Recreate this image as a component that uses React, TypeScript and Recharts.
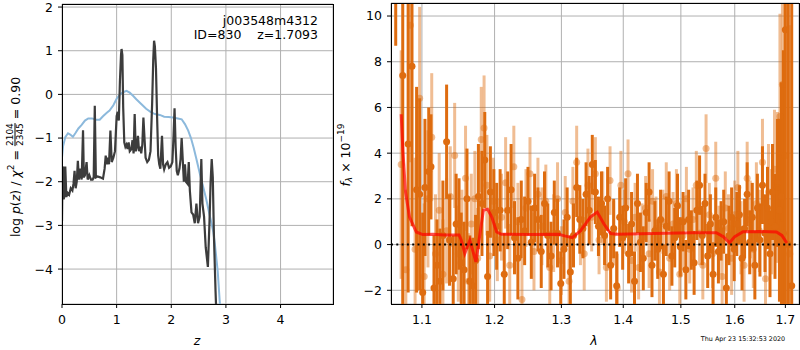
import React from "react";
import {
  CartesianGrid,
  ComposedChart,
  ErrorBar,
  Line,
  ReferenceLine,
  Scatter,
  XAxis,
  YAxis,
} from "recharts";

// left panel: redshift PDF
const zTicks = [0, 1, 2, 3, 4];
const logpTicks = [-4, -3, -2, -1, 0, 1, 2];

// [z, log p(z)] of the fit
const fitCurve: [number, number][] = [
  [0, -2.9], [0.01, -1.7], [0.02, -1.65], [0.03, -2.4], [0.05, -2.3], [0.06, -1.65],
  [0.08, -2.35], [0.1, -2.25], [0.13, -2.3], [0.16, -2.15], [0.19, -2.2], [0.21, -2.05],
  [0.23, -1.75], [0.25, -2.15], [0.27, -2.0], [0.29, -1.52], [0.31, -1.95], [0.33, -1.7],
  [0.36, -1.95], [0.385, -0.82], [0.4, -1.9], [0.42, -1.85], [0.45, -1.55], [0.47, -1.95],
  [0.5, -1.85], [0.53, -1.95], [0.56, -1.95], [0.58, -1.9], [0.6, -0.26], [0.62, -1.9],
  [0.65, -1.88], [0.7, -1.9], [0.75, -1.93], [0.78, -1.7], [0.8, -1.4], [0.82, -1.6],
  [0.84, -1.45], [0.86, -1.6], [0.886, -0.83], [0.91, -1.55], [0.94, -1.45], [0.97, -1.3],
  [1.0, -0.5], [1.02, -0.4], [1.04, -0.6], [1.06, 0.3], [1.08, 0.9], [1.09, 1.04],
  [1.105, 0.9], [1.12, -0.3], [1.14, -1.1], [1.16, -1.2], [1.18, -1.15], [1.2, -1.25],
  [1.22, -1.1], [1.24, -1.3], [1.27, -1.25], [1.29, -1.05], [1.31, -1.35], [1.33, -0.45],
  [1.35, -1.3], [1.37, -1.2], [1.39, -0.95], [1.41, -1.3], [1.43, -1.2], [1.45, -1.35],
  [1.47, -1.15], [1.49, -0.53], [1.51, -1.0], [1.53, -1.45], [1.56, -1.55], [1.59, -1.5],
  [1.62, -1.3], [1.65, -0.2], [1.67, 0.8], [1.685, 1.23], [1.7, 1.1], [1.72, 0.6],
  [1.74, -0.5], [1.76, -1.4], [1.78, -1.6], [1.8, -1.7], [1.83, -0.95], [1.85, -1.6],
  [1.87, -1.72], [1.9, -1.6], [1.93, -1.55], [1.96, -1.68], [1.99, -1.65], [2.02, -1.55],
  [2.04, -1.0], [2.06, -0.32], [2.08, -1.2], [2.1, -1.75], [2.12, -1.85], [2.15, -1.7],
  [2.17, -1.48], [2.19, -1.0], [2.21, -1.5], [2.23, -2.0], [2.25, -1.6], [2.27, -2.0],
  [2.3, -2.05], [2.32, -1.55], [2.34, -2.2], [2.37, -2.7], [2.4, -2.75], [2.43, -2.95],
  [2.46, -2.5], [2.49, -2.95], [2.52, -2.8], [2.55, -1.48], [2.57, -2.5], [2.6, -2.8],
  [2.63, -3.5], [2.67, -3.95], [2.7, -2.9], [2.72, -2.0], [2.74, -1.48], [2.76, -1.9],
  [2.78, -3.2], [2.81, -4.5], [2.83, -5.2],
];

// [z, log p(z)] of the prior
const priorCurve: [number, number][] = [
  [0, -1.45], [0.02, -1.18], [0.06, -0.98], [0.11, -0.89], [0.15, -0.92], [0.2, -0.97],
  [0.25, -0.88], [0.3, -0.78], [0.36, -0.7], [0.42, -0.6], [0.48, -0.55], [0.55, -0.55],
  [0.62, -0.58], [0.69, -0.58], [0.75, -0.5], [0.82, -0.42], [0.87, -0.37], [0.94, -0.25],
  [1.0, -0.1], [1.06, 0.0], [1.12, 0.05], [1.18, 0.08], [1.24, 0.04], [1.3, -0.03],
  [1.36, -0.11], [1.45, -0.22], [1.54, -0.33], [1.62, -0.4], [1.7, -0.45], [1.79, -0.47],
  [1.87, -0.51], [1.95, -0.52], [2.03, -0.53], [2.12, -0.55], [2.19, -0.57], [2.25, -0.68],
  [2.31, -0.83], [2.36, -1.0], [2.41, -1.22], [2.46, -1.48], [2.52, -1.8], [2.58, -2.1],
  [2.64, -2.4], [2.7, -2.75], [2.77, -3.15], [2.8, -3.45], [2.85, -4.05], [2.89, -4.8],
  [2.95, -5.6],
];

// right panel: spectrum
const lamTicks = [1.1, 1.2, 1.3, 1.4, 1.5, 1.6, 1.7];
const fluxTicks = [-2, 0, 2, 4, 6, 8, 10];

// [lambda, flux, err]
const darkSpec: [number, number, number][] = [
  [1.066, 13.5, 4.8], [1.075, 7.4, 12], [1.082, 4.4, 6.5], [1.087, 7.8, 7], [1.093, 2.4, 4.5],
  [1.097, 2.2, 4.2], [1.101, -2.1, 3.5], [1.104, 2.5, 3.0], [1.109, 3.2, 2.8], [1.112, 3.4, 2.3],
  [1.116, -1.9, 2.3], [1.12, -0.9, 2.0], [1.124, -1.6, 2.3], [1.128, 0.4, 2.4], [1.133, 4.5, 2.5],
  [1.137, 0.2, 2.0], [1.142, -1.5, 1.9], [1.146, 0.9, 2.2], [1.15, 0.9, 2.0], [1.153, -0.8, 2.2],
  [1.157, -1.1, 2.1], [1.161, 2.0, 2.2], [1.165, -1.6, 2.0], [1.169, -1.8, 2.1], [1.173, -0.7, 2.0],
  [1.177, 2.1, 2.3], [1.182, 1.8, 2.3], [1.186, 3.7, 2.1], [1.19, -1.4, 2.0], [1.194, 2.3, 2.0],
  [1.199, 1.4, 1.9], [1.203, 0.8, 1.9], [1.208, 1.5, 1.8], [1.214, -1.3, 1.8], [1.219, 1.5, 1.7],
  [1.224, 2.4, 2.0], [1.229, 0.3, 1.6], [1.234, -0.6, 1.8], [1.239, 1.1, 1.7], [1.244, 0.6, 1.5],
  [1.249, 1.9, 1.5], [1.254, 0.1, 1.6], [1.259, 1.6, 1.5], [1.264, 1.1, 1.4], [1.269, -0.3, 1.6],
  [1.274, 1.8, 1.4], [1.279, 0.4, 1.4], [1.284, -0.5, 1.5], [1.289, 1.4, 1.4], [1.294, 0.5, 1.5],
  [1.299, -1.7, 1.4], [1.304, -0.2, 1.3], [1.309, 1.2, 1.3], [1.314, -1.2, 1.6], [1.319, 0.4, 1.4],
  [1.324, 2.5, 1.3], [1.329, 1.1, 1.5], [1.334, 0.7, 1.3], [1.339, 2.2, 1.4], [1.344, 1.5, 1.5],
  [1.349, 3.5, 1.3], [1.354, 2.3, 1.4], [1.359, 0.8, 1.3], [1.364, 1.8, 1.4], [1.369, 0.4, 1.3],
  [1.374, 2.0, 1.4], [1.379, -0.9, 1.5], [1.384, 0.7, 1.3], [1.389, -1.8, 1.5], [1.394, 1.2, 1.3],
  [1.399, 0.3, 1.4], [1.404, 1.6, 1.3], [1.409, -0.4, 1.3], [1.414, 0.9, 1.4], [1.419, -1.6, 1.3],
  [1.424, 1.8, 1.3], [1.429, 0.1, 1.3], [1.434, -0.6, 1.4], [1.439, 1.4, 1.3], [1.444, 2.3, 1.3],
  [1.449, -0.9, 1.4], [1.454, 0.6, 1.3], [1.459, -0.2, 1.3], [1.464, 1.1, 1.3], [1.469, -1.3, 1.3],
  [1.474, 0.8, 1.3], [1.479, 1.9, 1.3], [1.484, -0.5, 1.3], [1.489, 0.3, 1.3], [1.494, 1.7, 1.4],
  [1.499, -0.1, 1.3], [1.504, 1.0, 1.3], [1.509, -1.1, 1.3], [1.514, 1.1, 1.3], [1.519, 0.2, 1.3],
  [1.524, -0.8, 1.4], [1.529, 1.5, 1.3], [1.534, 2.6, 1.3], [1.539, 0.4, 1.3], [1.544, 1.8, 1.3],
  [1.549, -0.5, 1.4], [1.554, 0.9, 1.3], [1.559, -1.3, 1.4], [1.564, 1.2, 1.3], [1.569, -0.3, 1.4],
  [1.574, 0.6, 1.3], [1.579, 1.0, 1.4], [1.584, -1.9, 1.5], [1.589, 0.4, 1.3], [1.594, 1.2, 1.3],
  [1.599, -0.2, 1.4], [1.604, 0.9, 1.4], [1.609, 1.3, 1.3], [1.614, -0.6, 1.4], [1.619, 0.7, 1.3],
  [1.624, 2.2, 1.4], [1.629, 0.1, 1.4], [1.634, 1.2, 1.5], [1.639, -0.9, 1.5], [1.644, 1.6, 1.5],
  [1.649, 0.2, 1.6], [1.654, 2.6, 1.7], [1.659, 0.5, 1.7], [1.664, 1.6, 1.8], [1.669, -0.4, 1.9],
  [1.674, 2.3, 2.1], [1.679, 0.8, 2.3], [1.684, 2.7, 2.8], [1.688, 1.5, 4.0], [1.692, 2.1, 5.0],
  [1.696, 0.5, 8], [1.7, 9.4, 12], [1.706, 0, 14], [1.713, -1.8, 14],
];

const lightSpec: [number, number, number][] = [
  [1.073, 3.5, 5], [1.079, -1.1, 3.5], [1.085, 9.6, 6], [1.091, -0.2, 4], [1.097, 6.4, 4],
  [1.103, -1.4, 3.2], [1.108, 2.0, 3.0], [1.113, 4.7, 2.8], [1.118, -0.4, 2.6], [1.123, 1.5, 2.5],
  [1.128, -1.3, 2.4], [1.133, 0.6, 2.3], [1.138, 2.1, 2.2], [1.144, 3.9, 2.3], [1.149, -0.4, 2.1],
  [1.154, 0.2, 2.2], [1.159, 2.9, 2.3], [1.163, -1.6, 2.1], [1.167, 0.9, 2.2], [1.172, 2.0, 2.1],
  [1.176, -0.6, 2.2], [1.181, 4.6, 2.3], [1.185, 5.1, 2.3], [1.189, 2.6, 2.2], [1.193, -0.5, 2.0],
  [1.198, 1.9, 1.9], [1.204, 0.2, 1.8], [1.21, 1.2, 1.9], [1.216, 2.7, 2.0], [1.222, -0.9, 1.8],
  [1.228, 3.4, 1.8], [1.234, 1.0, 1.7], [1.24, -2.4, 1.8], [1.246, 1.6, 1.7], [1.252, 3.1, 1.6],
  [1.258, -0.3, 1.7], [1.264, 2.2, 1.6], [1.27, 0.8, 1.7], [1.276, 1.9, 1.6], [1.282, -1.0, 1.6],
  [1.288, 0.5, 1.7], [1.294, 2.0, 1.6], [1.3, -0.7, 1.5], [1.306, 1.4, 1.6], [1.312, -1.6, 1.5],
  [1.318, 1.9, 1.5], [1.324, 3.6, 1.6], [1.33, 0.6, 1.5], [1.336, -0.4, 1.6], [1.342, 2.6, 1.6],
  [1.348, 1.2, 1.5], [1.354, 3.1, 1.6], [1.36, 0.2, 1.5], [1.366, 1.6, 1.6], [1.372, -1.0, 1.5],
  [1.378, 2.8, 1.5], [1.384, 0.5, 1.4], [1.39, -1.9, 1.5], [1.396, 2.6, 1.5], [1.402, 1.0, 1.4],
  [1.408, 3.1, 1.5], [1.414, -0.7, 1.4], [1.42, 1.2, 1.5], [1.426, -1.0, 1.4], [1.432, 0.3, 1.5],
  [1.438, 1.6, 1.4], [1.444, -0.4, 1.5], [1.45, 1.9, 1.4], [1.456, 0.7, 1.4], [1.462, -1.2, 1.5],
  [1.468, 1.0, 1.4], [1.474, 2.1, 1.5], [1.48, -0.6, 1.4], [1.486, 0.9, 1.4], [1.492, 1.8, 1.5],
  [1.498, -1.3, 1.4], [1.504, 0.4, 1.5], [1.51, 2.0, 1.4], [1.516, -0.2, 1.5], [1.522, 1.1, 1.4],
  [1.528, 2.6, 1.5], [1.534, 0.5, 1.4], [1.54, -0.9, 1.5], [1.546, 4.2, 1.5], [1.552, 1.3, 1.4],
  [1.558, -0.4, 1.5], [1.564, 2.9, 1.6], [1.57, 0.2, 1.5], [1.576, -1.4, 1.6], [1.582, 1.6, 1.6],
  [1.588, 0.7, 1.5], [1.594, -0.6, 1.6], [1.6, 1.3, 1.5], [1.606, 2.5, 1.6], [1.612, 0.3, 1.6],
  [1.618, -0.9, 1.6], [1.624, 2.9, 1.6], [1.63, 1.1, 1.7], [1.636, -0.2, 1.7], [1.642, 1.8, 1.8],
  [1.648, 0.6, 1.8], [1.654, 3.6, 1.9], [1.66, -1.5, 2.0], [1.666, 2.3, 2.1], [1.672, 1.0, 2.3],
  [1.678, 3.3, 2.6], [1.684, 2.5, 3.3], [1.689, 5.6, 4.5], [1.694, 7.0, 6], [1.699, 3.9, 8],
  [1.709, -0.4, 10],
];

// [lambda, flux] of the best-fit model
const modelCurve: [number, number][] = [
  [1.073, 5.7], [1.0752, 4.1], [1.0786, 2.3], [1.0838, 1.2], [1.0926, 0.55], [1.101, 0.44],
  [1.115, 0.45], [1.13, 0.42], [1.15, 0.42], [1.153, 0.2], [1.158, -0.39], [1.165, 0.19],
  [1.1735, -0.76], [1.184, 1.5], [1.19, 1.55], [1.196, 1.2], [1.203, 0.55], [1.21, 0.45],
  [1.25, 0.44], [1.296, 0.45], [1.305, 0.38], [1.317, 0.3], [1.33, 0.6], [1.346, 1.2],
  [1.357, 1.42], [1.368, 0.9], [1.379, 0.48], [1.39, 0.45], [1.43, 0.47], [1.4735, 0.5],
  [1.52, 0.52], [1.565, 0.52], [1.578, 0.35], [1.59, 0.08], [1.6, 0.35], [1.616, 0.56],
  [1.65, 0.57], [1.682, 0.55], [1.693, 0.4], [1.703, 0.07],
];

const fitData = fitCurve.map(([z, v]) => ({ z, v }));
const priorData = priorCurve.map(([z, v]) => ({ z, v }));
const darkData = darkSpec.map(([lam, f, e]) => ({ lam, f, e }));
const lightData = lightSpec.map(([lam, f, e]) => ({ lam, f, e }));
const modelData = modelCurve.map(([lam, f]) => ({ lam, f }));

const ORANGE = "#de6c10";
const ORANGE_LIGHT = "rgba(222,108,16,0.45)";
const FONT = "DejaVu Sans";
const tickStyle = { fontSize: 12.5, fill: "#000", fontFamily: FONT };
const minus = (v: number) => String(v).replace("-", "\u2212");

const LAM_DOMAIN: [number, number] = [1.06, 1.728];
const FLUX_DOMAIN: [number, number] = [-2.6, 10.57];
// right plot area inside its 470x350 chart box
const SPEC_MARGIN = { top: 3, right: 1, bottom: 46, left: 61 };

const darkDot = (p: any) => <circle cx={p.cx} cy={p.cy} r={3.5} fill={ORANGE} />;
const lightDot = (p: any) => <circle cx={p.cx} cy={p.cy} r={3.5} fill={ORANGE_LIGHT} />;

const abs = (left: number, top: number): React.CSSProperties => ({
  position: "absolute",
  left,
  top,
});

export default function App() {
  const hiddenX = (
    <XAxis dataKey="lam" type="number" scale="log" domain={LAM_DOMAIN} allowDataOverflow hide />
  );
  const hiddenY = <YAxis type="number" domain={FLUX_DOMAIN} allowDataOverflow hide />;

  return (
    <div
      style={{
        position: "absolute",
        left: 0,
        top: 0,
        width: 800,
        height: 350,
        background: "#fff",
        fontFamily: FONT,
        overflow: "hidden",
      }}
    >
      <div style={abs(0, 0)}>
        <ComposedChart width={340} height={350} margin={{ top: 4, right: 7, bottom: 26, left: 22 }}>
          <CartesianGrid stroke="#b0b0b0" strokeWidth={1} />
          <XAxis
            dataKey="z"
            type="number"
            domain={[0, 4.96]}
            ticks={zTicks}
            allowDataOverflow
            height={20}
            tickSize={4}
            tickMargin={7}
            axisLine={false}
            tickLine={{ stroke: "#000" }}
            tick={tickStyle}
          />
          <YAxis
            type="number"
            domain={[-4.8, 2.07]}
            ticks={logpTicks}
            allowDataOverflow
            width={40}
            tickSize={4}
            tickMargin={5}
            axisLine={false}
            tickLine={{ stroke: "#000" }}
            tick={tickStyle}
            tickFormatter={minus}
          />
          <Line
            data={priorData}
            dataKey="v"
            type="linear"
            stroke="#8cb9dc"
            strokeWidth={2}
            dot={false}
            isAnimationActive={false}
          />
          <Line
            data={fitData}
            dataKey="v"
            type="linear"
            stroke="#3c3c3c"
            strokeWidth={2.2}
            dot={false}
            isAnimationActive={false}
          />
        </ComposedChart>
      </div>

      {/* spectrum panel: grid and ticks */}
      <div style={abs(330, 0)}>
        <ComposedChart
          width={470}
          height={350}
          data={modelData}
          margin={{ top: 3, right: 1, bottom: 26, left: 21 }}
        >
          <CartesianGrid stroke="#b0b0b0" strokeWidth={1} />
          <XAxis
            dataKey="lam"
            type="number"
            scale="log"
            domain={LAM_DOMAIN}
            ticks={lamTicks}
            allowDataOverflow
            height={20}
            tickSize={4}
            tickMargin={7}
            axisLine={false}
            tickLine={{ stroke: "#000" }}
            tick={tickStyle}
          />
          <YAxis
            type="number"
            domain={FLUX_DOMAIN}
            ticks={fluxTicks}
            allowDataOverflow
            width={40}
            tickSize={4}
            tickMargin={5}
            axisLine={false}
            tickLine={{ stroke: "#000" }}
            tick={tickStyle}
            tickFormatter={minus}
          />
        </ComposedChart>
      </div>

      {/* spectrum panel: data, clipped to the plot area */}
      <div style={{ ...abs(391, 3), width: 408, height: 301, overflow: "hidden" }}>
        <div style={abs(-61, -3)}>
          <ComposedChart width={470} height={350} margin={SPEC_MARGIN}>
            {hiddenX}
            {hiddenY}
            <Scatter data={darkData} dataKey="f" shape={darkDot} isAnimationActive={false}>
              <ErrorBar
                dataKey="e"
                direction="y"
                width={0}
                stroke={ORANGE}
                strokeWidth={3}
                isAnimationActive={false}
              />
            </Scatter>
            <Scatter data={lightData} dataKey="f" shape={lightDot} isAnimationActive={false}>
              <ErrorBar
                dataKey="e"
                direction="y"
                width={0}
                stroke={ORANGE_LIGHT}
                strokeWidth={3}
                isAnimationActive={false}
              />
            </Scatter>
          </ComposedChart>
        </div>
        <div style={abs(-61, -3)}>
          <ComposedChart width={470} height={350} margin={SPEC_MARGIN} data={modelData}>
            {hiddenX}
            {hiddenY}
            <Line
              dataKey="f"
              type="linear"
              stroke="rgba(255,0,0,0.7)"
              strokeWidth={3}
              dot={false}
              isAnimationActive={false}
            />
            <ReferenceLine y={0} stroke="#000" strokeWidth={2} strokeDasharray="2 3.3" />
          </ComposedChart>
        </div>
      </div>

      {/* axes frames */}
      <div style={{ ...abs(62, 4), width: 272, height: 301, border: "1px solid #000", boxSizing: "border-box" }} />
      <div style={{ ...abs(391, 3), width: 409, height: 302, border: "1px solid #000", boxSizing: "border-box" }} />

      {/* annotation */}
      <div
        style={{
          ...abs(160, 14),
          width: 158,
          textAlign: "right",
          fontSize: 12.5,
          lineHeight: "14px",
          whiteSpace: "pre",
        }}
      >
        {"j003548m4312\nID=830    z=1.7093"}
      </div>

      {/* left y label */}
      <div
        style={{
          ...abs(15, 157),
          transform: "translate(-50%, -50%) rotate(-90deg)",
          whiteSpace: "nowrap",
          fontSize: 12.5,
          display: "flex",
          alignItems: "center",
        }}
      >
        <span>log&nbsp;</span>
        <i>p</i>
        <span>(</span>
        <i>z</i>
        <span>)&nbsp;/&nbsp;</span>
        <i>χ</i>
        <span style={{ fontSize: 9, position: "relative", top: -5 }}>2</span>
        <span>&nbsp;=&nbsp;</span>
        <span
          style={{
            display: "inline-flex",
            flexDirection: "column",
            alignItems: "center",
            fontSize: 9,
            lineHeight: "9px",
          }}
        >
          <span>2104</span>
          <span style={{ borderTop: "1px solid #000" }}>2345</span>
        </span>
        <span>&nbsp;=&nbsp;0.90</span>
      </div>

      {/* right y label */}
      <div
        style={{
          ...abs(345, 155),
          transform: "translate(-50%, -50%) rotate(-90deg)",
          whiteSpace: "nowrap",
          fontSize: 12.5,
          display: "flex",
          alignItems: "center",
        }}
      >
        <i>f</i>
        <i style={{ fontSize: 9, position: "relative", top: 3 }}>λ</i>
        <span>&nbsp;×&nbsp;10</span>
        <span style={{ fontSize: 9, position: "relative", top: -5 }}>−19</span>
      </div>

      {/* x labels */}
      <div style={{ ...abs(197, 340), transform: "translate(-50%, -50%)", fontSize: 12.5, fontStyle: "italic" }}>
        z
      </div>
      <div style={{ ...abs(594, 340), transform: "translate(-50%, -50%)", fontSize: 12.5, fontStyle: "italic" }}>
        λ
      </div>

      <div style={{ ...abs(743, 339), transform: "translate(-50%, -50%)", fontSize: 6.4, whiteSpace: "nowrap" }}>
        Thu Apr 23 15:32:53 2020
      </div>
    </div>
  );
}
